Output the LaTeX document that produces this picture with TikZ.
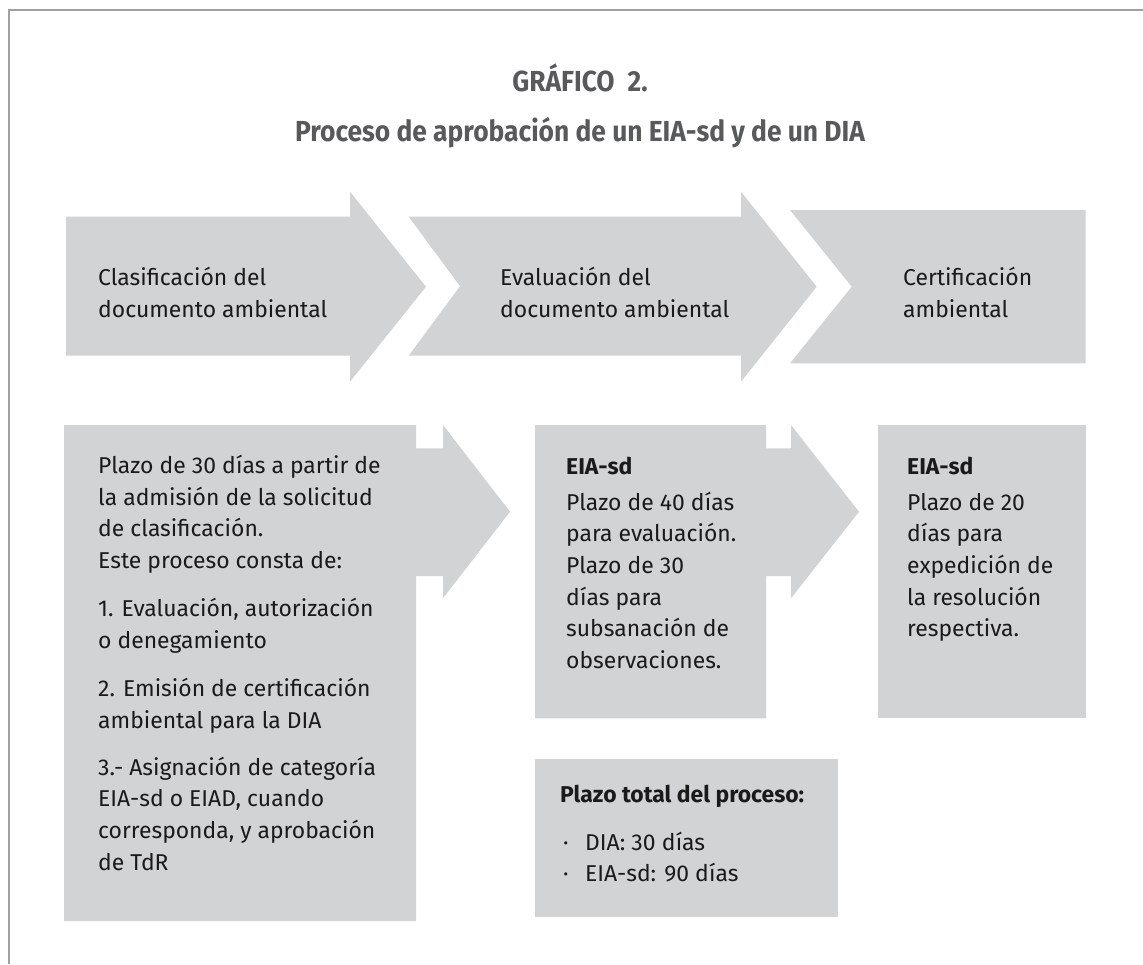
\documentclass[tikz,border=0pt]{standalone}
\usepackage{fontspec}
\setmainfont{Fira Sans}
\newfontfamily\condfont[FakeStretch=0.91]{Fira Sans}
\definecolor{boxgray}{HTML}{D1D3D4}
\definecolor{headgray}{HTML}{58595B}
\definecolor{framegray}{HTML}{A0A0A0}
\definecolor{txt}{HTML}{1A1A1A}
\begin{document}
\begin{tikzpicture}[x=1pt,y=-1pt,
  shapefill/.style={fill=boxgray,draw=none},
  body/.style={inner sep=0pt,anchor=base west,align=left,text=txt,
    font=\fontsize{22.9}{31.7}\selectfont},
  bodybold/.style={body,font=\bfseries\fontsize{22.9}{31.7}\selectfont},
  headtxt/.style={inner sep=0pt,anchor=base,text=headgray,
    font=\condfont\bfseries\fontsize{29}{30}\selectfont}]
\useasboundingbox (0,0) rectangle (1143,964);
\draw[framegray,line width=2pt] (9,964) -- (9,10) -- (1143,10);

\node[headtxt] (title) at (580,91.7) {GRÁFICO\hspace{0.45em}2.};
\node[headtxt] (subtitle) at (580,141) {Proceso de aprobación de un EIA-sd y de un DIA};

% top arrows
\fill[shapefill] (66,216.7) -- (350,216.7) -- (350,191.7) -- (426,286.7) -- (350,381.7) -- (350,355.7) -- (66,355.7) -- cycle;
\fill[shapefill] (408.7,216.7) -- (741,216.7) -- (741,191.7) -- (816.7,286.7) -- (741,381.7) -- (741,355.7) -- (408.7,355.7) -- (460,286.2) -- cycle;
\fill[shapefill] (790,210) -- (1085.5,210) -- (1085.5,363.3) -- (790,363.3) -- (851.7,286.7) -- cycle;

% (multi-line nodes: base anchor = baseline of last line)
\node[body] (s1) at (98,317.5) {Clasificación del\\documento ambiental};
\node[body] (s2) at (500,317.5) {Evaluación del\\documento ambiental};
\node[body] (s3) at (903,317.5) {Certificación\\ambiental};

% bottom shapes
\fill[shapefill] (64,425) -- (416,425) -- (416,448.3) -- (443,448.3) -- (443,425) -- (510,511.7) -- (443,598.3) -- (443,576) -- (416,576) -- (416,921) -- (64,921) -- cycle;
\fill[shapefill] (535,425) -- (766,425) -- (766,448.3) -- (791,448.3) -- (791,425) -- (859,511.7) -- (791,598.3) -- (791,576) -- (766,576) -- (766,718.3) -- (535,718.3) -- cycle;
\fill[shapefill] (878.3,425) rectangle (1085.5,718.3);
\fill[shapefill] (535,759) rectangle (838,917);

% left box text
\node[body] (l1) at (98,568.4) {Plazo de 30 días a partir de\\la admisión de la solicitud\\de clasificación.\\Este proceso consta de:};
\node[body] (l2) at (98,648.4) {1. Evaluación, autorización\\o denegamiento};
\node[body] (l3) at (98,728.4) {2. Emisión de certificación\\ambiental para la DIA};
\node[body] (l4) at (98,870.1) {3.- Asignación de categoría\\EIA-sd o EIAD, cuando\\corresponda, y aprobación\\de TdR};

% middle box text
\node[bodybold] (m0) at (566,474) {EIA-sd};
\node[body] (m1) at (566,668.5) {Plazo de 40 días\\para evaluación.\\Plazo de 30\\días para\\subsanación de\\observaciones.};

% right box text
\node[bodybold] (r0) at (907,474) {EIA-sd};
\node[body] (r1) at (907,636.8) {Plazo de 20\\días para\\expedición de\\la resolución\\respectiva.};

% total box
\node[bodybold] (t0) at (560,802) {Plazo total del proceso:};
\node[body] (b1) at (563,850) {·};
\node[body] (b2) at (563,881) {·};
\node[body] (t1) at (585,850) {DIA: 30 días};
\node[body] (t2) at (585,881) {EIA-sd: 90 días};
\end{tikzpicture}
\end{document}
